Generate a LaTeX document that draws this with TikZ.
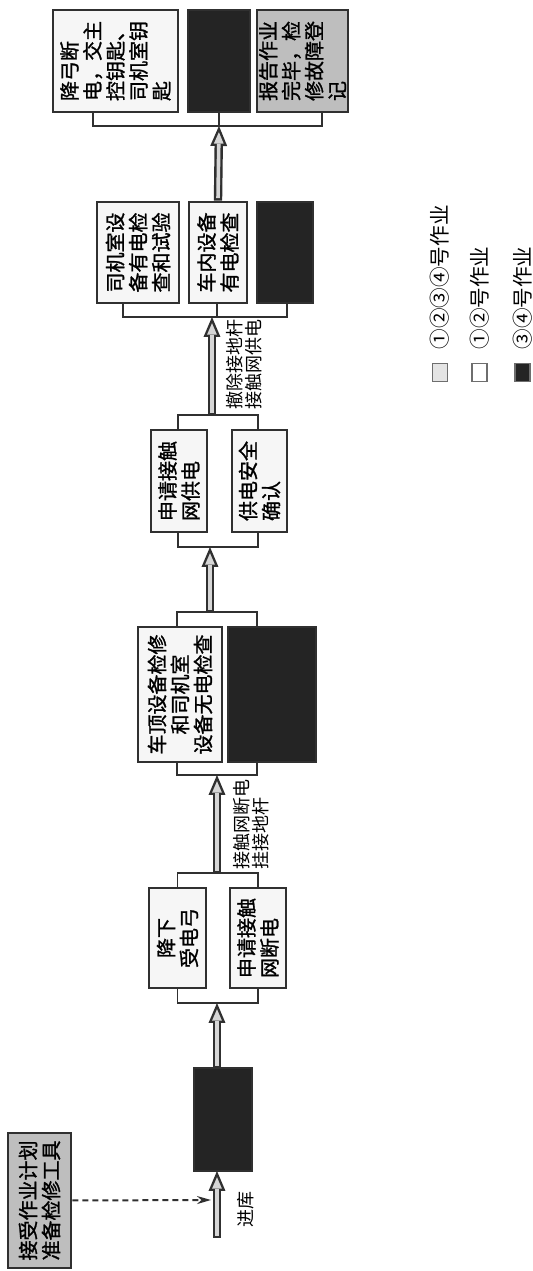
\documentclass[tikz,border=0pt]{standalone}
\usepackage{fontspec}
\usepackage{tikz}
\usetikzlibrary{arrows.meta, positioning}
\newfontfamily\cjk{Noto Sans CJK SC}
\newfontfamily\cjkbox{Noto Sans CJK SC}[FakeBold=1.2]
\definecolor{boxline}{RGB}{48,48,48}
\definecolor{boxfill}{RGB}{246,246,246}
\definecolor{darkfill}{RGB}{36,36,36}
\definecolor{greyfill}{RGB}{190,190,190}
\definecolor{shaftfill}{RGB}{214,214,214}
\definecolor{keyfill}{RGB}{228,228,228}
\tikzset{
  task/.style={rectangle, draw=boxline, fill=boxfill, line width=1.4pt,
    inner sep=0pt, align=center, text=black,
    font=\cjkbox\fontsize{10}{11.5}\selectfont},
  lefttask/.style={task, align=left},
  darktask/.style={task, fill=darkfill},
  greytask/.style={task, fill=greyfill, align=left},
  bracket/.style={draw=boxline, line width=0.7pt},
  flowout/.style={draw=boxline, line width=4.2pt,
    -{Triangle[length=10pt, width=8.5pt, line width=0pt]}},
  flowin/.style={draw=shaftfill, line width=1.8pt,
    shorten >=3.1pt, shorten <=1.2pt,
    -{Triangle[length=5.7pt, width=4.9pt, line width=0pt]}},
  dasharrow/.style={draw=boxline, line width=1pt, dash pattern=on 3pt off 2pt,
    -{Stealth[length=7pt, width=4pt]}},
  note/.style={inner sep=0pt, align=left, font=\cjk\fontsize{9}{9.5}\selectfont},
  keybox/.style={rectangle, draw=boxline!70, line width=0.6pt, fill=keyfill,
    minimum width=9pt, minimum height=7.5pt, inner sep=0pt},
  keytext/.style={anchor=west, inner sep=0pt, font=\cjk\fontsize{10.3}{12}\selectfont}
}
\newcommand{\flowarrow}[2]{%
  \draw[flowout] (#1) -- (#2);
  \draw[flowin] (#1) -- (#2);}

\begin{document}
\begin{tikzpicture}[x=0.5pt, y=0.5pt, rotate=90, transform shape]
  \useasboundingbox (0,0) rectangle (1271,533);

  % junctions on the main line
  \coordinate (in0) at (33,316);
  \coordinate (in1) at (100,316);
  \coordinate (out1) at (203,316);
  \coordinate (plan0) at (71,322);
  \coordinate (j1) at (268,316);
  \coordinate (k1) at (398,316);
  \coordinate (j2) at (496,316);
  \coordinate (k2) at (659,323);
  \coordinate (j3) at (724,323);
  \coordinate (k3) at (856,321);
  \coordinate (j4) at (954,321);
  \coordinate (j5) at (1145,314);

  % entry into the shed
  \node[greytask, align=center, minimum width=67.5pt, minimum height=31.5pt] (plan) at (70.5,493.5) {接受作业计划\\准备检修工具};
  \node[darktask, minimum width=51.5pt, minimum height=29pt] (bk1) at (151.5,310) {};
  \draw[dasharrow] (plan.south) -- (plan0);
  \flowarrow{in0}{in1}
  \node[note] (entry) at (61,287) {进库};
  \flowarrow{out1}{j1}

  % stage 1
  \node[task, minimum width=50pt, minimum height=28.5pt] (s1a) at (333,355.5) {降下\\受电弓};
  \node[lefttask, minimum width=50pt, minimum height=28pt] (s1b) at (333,275) {申请接触\\网断电};
  \draw[bracket] (s1a.west) -- (268,355.5) -- (268,275) -- (s1b.west);
  \draw[bracket] (s1a.east) -- (398,355.5) -- (398,275) -- (s1b.east);
  \flowarrow{k1}{j2}
  \node[note, anchor=north west] (cut1) at (401,300) {接触网断电\\挂接地杆};

  % stage 2
  \node[task, minimum width=67.5pt, minimum height=42pt] (s2a) at (576.5,353) {车顶设备检修\\和司机室\\设备无电检查};
  \node[darktask, minimum width=67.5pt, minimum height=44pt] (s2b) at (576.5,261) {};
  \draw[bracket] (509,356) -- (496,356) -- (496,276) -- (509,276);
  \draw[bracket] (644,356) -- (659,356) -- (659,276) -- (644,276);
  \flowarrow{k2}{j3}

  % stage 3
  \node[lefttask, minimum width=51pt, minimum height=28pt] (s3a) at (790,354) {申请接触\\网供电};
  \node[lefttask, minimum width=51pt, minimum height=27.5pt] (s3b) at (790,273.5) {供电安全\\确认};
  \draw[bracket] (739,355) -- (724,355) -- (724,275) -- (739,275);
  \draw[bracket] (841,355) -- (856,355) -- (856,275) -- (841,275);
  \flowarrow{k3}{j4}
  \node[note, anchor=north west] (cut2) at (861,307) {撤除接地杆\\接触网供电};

  % stage 4
  \node[lefttask, minimum width=50.5pt, minimum height=41pt] (s4a) at (1018.5,395) {司机室设\\备有电检\\查和试验};
  \node[lefttask, minimum width=50.5pt, minimum height=29pt] (s4b) at (1018.5,315) {车内设备\\有电检查};
  \node[darktask, minimum width=50.5pt, minimum height=28pt] (s4c) at (1018.5,248) {};
  \draw[bracket] (968,410) -- (954,410) -- (954,246) -- (968,246);
  \draw[bracket] (954,316) -- (968,316);
  \flowarrow{s4b.east}{j5}

  % stage 5
  \node[lefttask, minimum width=51pt, minimum height=62.5pt] (s5a) at (1210,417.5) {降弓断\\电，交主\\控钥匙、\\司机室钥\\匙};
  \node[darktask, minimum width=51pt, minimum height=31pt] (s5b) at (1210,314) {};
  \node[greytask, minimum width=51pt, minimum height=45.5pt] (s5c) at (1210,230.5) {报告作业\\完毕，检\\修故障登\\记};
  \draw[bracket] (1159,440) -- (1145,440) -- (1145,211) -- (1159,211);
  \draw[bracket] (j5) -- (s5b.west);

  % legend
  \node[keybox] (key1) at (898.5,93) {};
  \node[keybox, fill=white] (key2) at (898.5,53.5) {};
  \node[keybox, fill=darkfill] (key3) at (898.5,10.5) {};
  \node[keytext] (lab1) at (921,93) {①②③④号作业};
  \node[keytext] (lab2) at (921,53.5) {①②号作业};
  \node[keytext] (lab3) at (921,10.5) {③④号作业};
\end{tikzpicture}
\end{document}
